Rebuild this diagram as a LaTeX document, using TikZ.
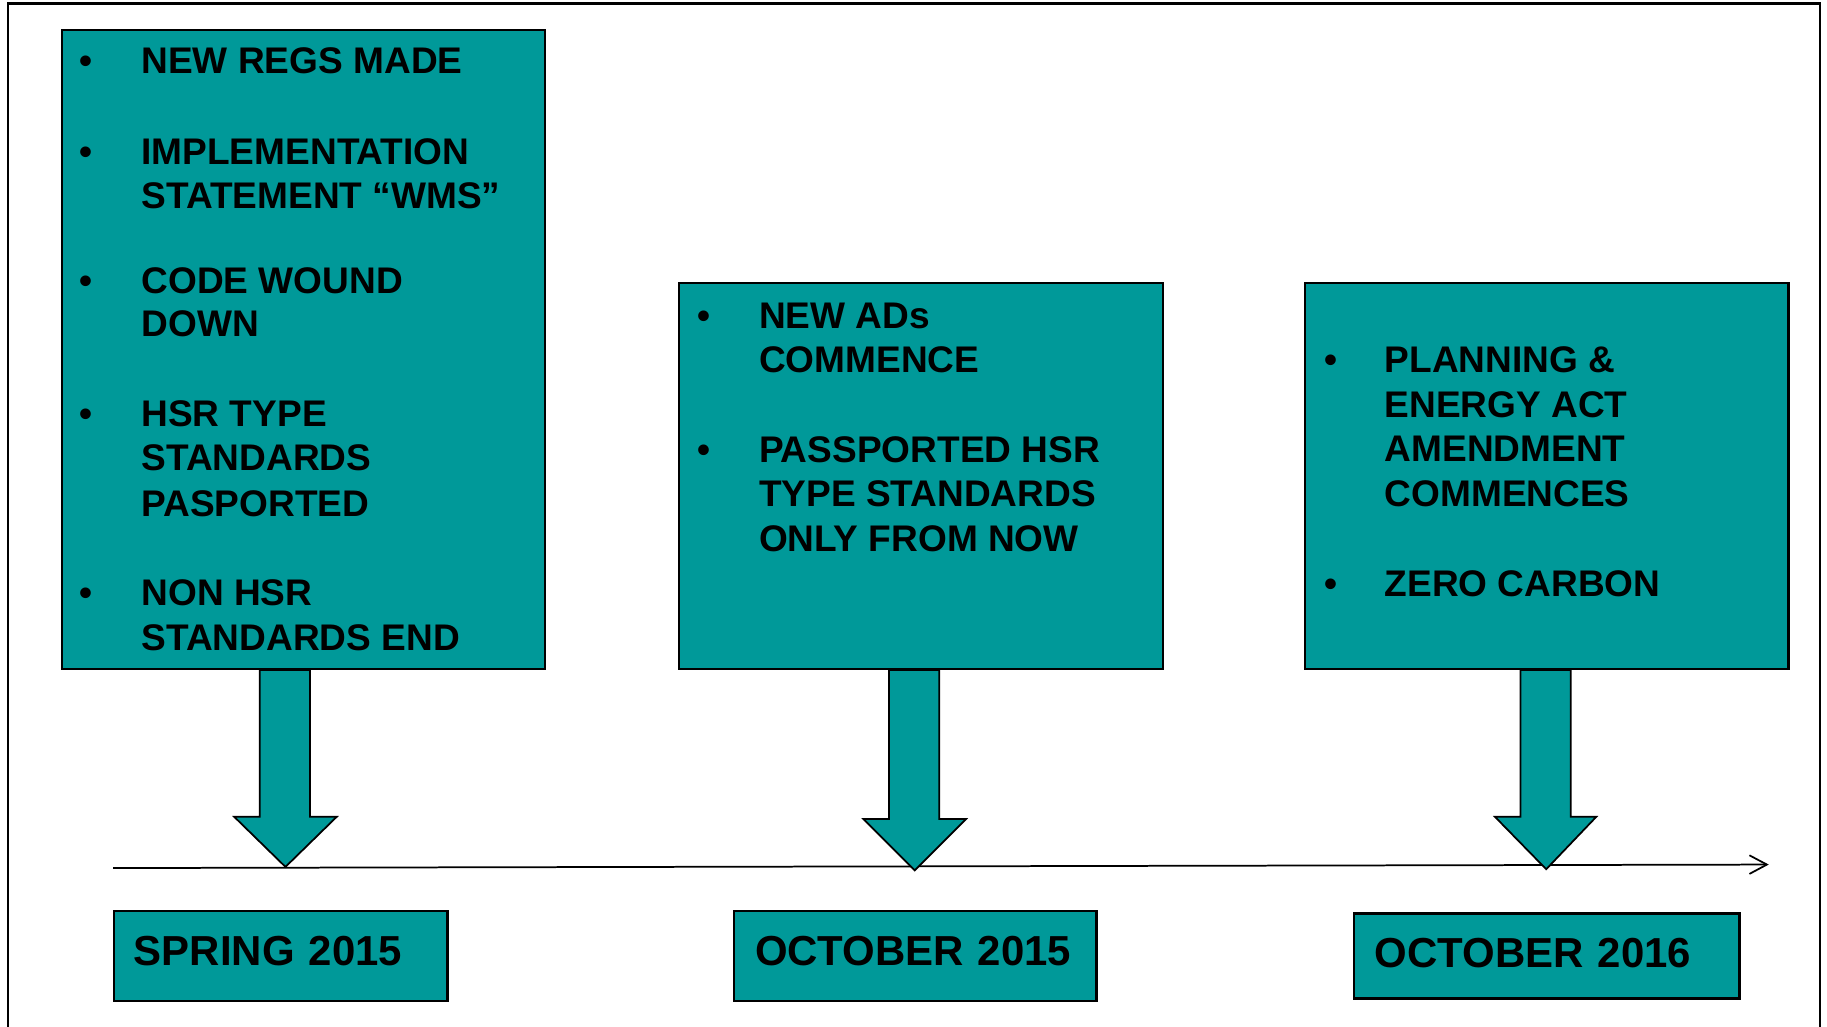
\documentclass[tikz,border=0pt]{standalone}
\usepackage{fontspec}
\setmainfont{Liberation Sans}
\usetikzlibrary{calc,arrows.meta}
\definecolor{tealfill}{RGB}{0,153,153}
\begin{document}
\begin{tikzpicture}[x=0.5pt,y=-0.5pt,
  bigbox/.style={draw=black, line width=1pt, fill=tealfill, minimum width=207.5pt, inner sep=0pt, anchor=north west},
  linetext/.style={anchor=base west, inner sep=0pt, font=\fontsize{15.9pt}{19pt}\selectfont\bfseries},
  bullet/.style={anchor=base, inner sep=0pt, font=\fontsize{15.9pt}{19pt}\selectfont\bfseries},
  blockarrow/.style={draw=black, line width=0.75pt, fill=tealfill, line join=miter},
  datebox/.style={draw=black, line width=1pt, fill=tealfill, anchor=north west, inner xsep=0pt, inner ysep=0pt, align=left, font=\fontsize{18pt}{22pt}\selectfont\bfseries, text height=15pt, text depth=6.5pt},
  timeline/.style={line width=0.75pt, -{Straight Barb[length=7.5pt,width=8pt,line width=0.75pt]}}
]
\useasboundingbox (0,0) rectangle (1568,881);
% frame
\draw[line width=1pt] (7,881) -- (7,3) -- (1562,3) -- (1562,881);

% big boxes
\node[bigbox, minimum height=274pt] (box1) at (52,25) {};
\node[bigbox, minimum height=165.5pt] (box2) at (582,242) {};
\node[bigbox, minimum height=165.5pt] (box3) at (1119,242) {};

% box 1 text
\node[bullet] (b1a) at (74,63) {•};
\node[linetext] (t1a) at (121,63) {NEW REGS MADE};
\node[bullet] (b1b) at (74,141) {•};
\node[linetext] (t1b) at (121,141) {IMPLEMENTATION};
\node[linetext] (t1c) at (121,179) {STATEMENT “WMS”};
\node[bullet] (b1c) at (74,252) {•};
\node[linetext] (t1d) at (121,252) {CODE WOUND};
\node[linetext] (t1e) at (121,289) {DOWN};
\node[bullet] (b1d) at (74,366) {•};
\node[linetext] (t1f) at (121,366) {HSR TYPE};
\node[linetext] (t1g) at (121,404) {STANDARDS};
\node[linetext] (t1h) at (121,443) {PASPORTED};
\node[bullet] (b1e) at (74,520) {•};
\node[linetext] (t1i) at (121,520) {NON HSR};
\node[linetext] (t1j) at (121,558) {STANDARDS END};

% box 2 text
\node[bullet] (b2a) at (604,282) {•};
\node[linetext] (t2a) at (651,282) {NEW ADs};
\node[linetext] (t2b) at (651,320) {COMMENCE};
\node[bullet] (b2b) at (604,397) {•};
\node[linetext] (t2c) at (651,397) {PASSPORTED HSR};
\node[linetext] (t2d) at (651,435) {TYPE STANDARDS};
\node[linetext] (t2e) at (651,473) {ONLY FROM NOW};

% box 3 text
\node[bullet] (b3a) at (1142,320) {•};
\node[linetext] (t3a) at (1188,320) {PLANNING \&};
\node[linetext] (t3b) at (1188,358) {ENERGY ACT};
\node[linetext] (t3c) at (1188,396) {AMENDMENT};
\node[linetext] (t3d) at (1188,435) {COMMENCES};
\node[bullet] (b3b) at (1142,512) {•};
\node[linetext] (t3e) at (1188,512) {ZERO CARBON};

% timeline
\coordinate (tl0) at (97,745);
\coordinate (tl1) at (1518,742);
\draw[timeline] (tl0) -- (tl1);

% block arrows
\coordinate (tip1) at (245,744);
\coordinate (tip2) at (785,747);
\coordinate (tip3) at (1327,746);
\draw[blockarrow] ($(tip1 |- box1.south)+(-22,0)$) -- ($(tip1)+(-22,-43)$) -- ($(tip1)+(-44,-43)$) -- (tip1) -- ($(tip1)+(44,-43)$) -- ($(tip1)+(21,-43)$) -- ($(tip1 |- box1.south)+(21,0)$) -- cycle;
\draw[blockarrow] ($(tip2 |- box2.south)+(-22,0)$) -- ($(tip2)+(-22,-44)$) -- ($(tip2)+(-44,-44)$) -- (tip2) -- ($(tip2)+(44,-44)$) -- ($(tip2)+(21,-44)$) -- ($(tip2 |- box2.south)+(21,0)$) -- cycle;
\draw[blockarrow] ($(tip3 |- box3.south)+(-22,0)$) -- ($(tip3)+(-22,-45)$) -- ($(tip3)+(-44,-45)$) -- (tip3) -- ($(tip3)+(43,-45)$) -- ($(tip3)+(21,-45)$) -- ($(tip3 |- box3.south)+(21,0)$) -- cycle;

% date boxes
\node[datebox, text width=143pt, minimum height=38.5pt] (d1) at (97,781) {\hspace*{8.5pt}SPRING 2015};
\node[datebox, text width=155.5pt, minimum height=38.5pt] (d2) at (629,781) {\hspace*{9pt}OCTOBER 2015};
\node[datebox, text width=165.5pt, minimum height=36.5pt, text depth=5.5pt] (d3) at (1161,783) {\hspace*{9pt}OCTOBER 2016};
\end{tikzpicture}
\end{document}
